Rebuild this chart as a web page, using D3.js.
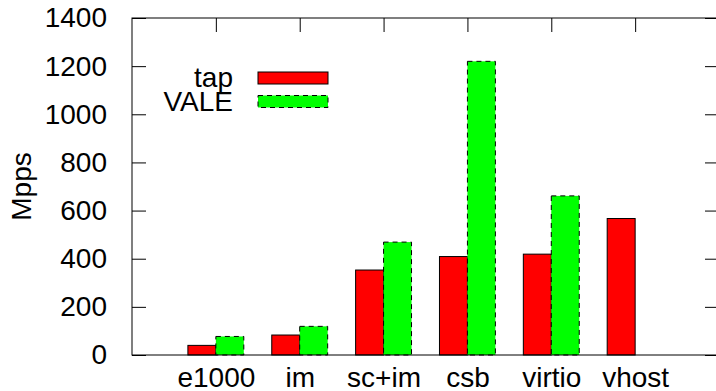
<!DOCTYPE html>
<html>
<head>
<meta charset="utf-8">
<script src="https://cdn.jsdelivr.net/npm/d3@7"></script>
<style>
  body { margin: 0; background: #fff; }
  text { font-family: "Liberation Sans", Arial, sans-serif; fill: #000; }
</style>
</head>
<body>
<div id="chart"></div>
<script>
// ---- data ----
var categories = ["e1000", "im", "sc+im", "csb", "virtio", "vhost"];
var tapValues  = [40, 83, 353, 409, 419, 567];
var valeValues = [77, 119, 469, 1220, 661, null];
var yTicks     = [0, 200, 400, 600, 800, 1000, 1200, 1400];

var width = 716;
var height = 391;
var fontSize = 28;

var svg = d3.select("#chart").append("svg")
    .attr("width", width)
    .attr("height", height);

// plot frame (right border sits just off the picture)
var plotLeft = 132, plotRight = 719, plotTop = 18, plotBottom = 355;

var x = d3.scaleLinear().domain([0, categories.length + 1]).range([plotLeft, plotRight]);
var y = d3.scaleLinear().domain([0, 1400]).range([plotBottom, plotTop]);
var barW = 1 / 3;

// bars
var tapBars = svg.append("g");
tapBars.selectAll("rect")
    .data(tapValues)
    .enter().append("rect")
    .attr("x", function(d, i) { return x(i + 1 - barW); })
    .attr("y", function(d) { return y(d); })
    .attr("width", function(d, i) { return x(i + 1) - x(i + 1 - barW); })
    .attr("height", function(d) { return y(0) - y(d); })
    .attr("fill", "#ff0000")
    .attr("stroke", "#000")
    .attr("stroke-width", 1);

var valeBars = svg.append("g");
valeBars.selectAll("rect")
    .data(valeValues.map(function(v, i) { return {v: v, i: i}; }).filter(function(d) { return d.v != null; }))
    .enter().append("rect")
    .attr("x", function(d) { return x(d.i + 1); })
    .attr("y", function(d) { return y(d.v); })
    .attr("width", function(d) { return x(d.i + 1 + barW) - x(d.i + 1); })
    .attr("height", function(d) { return y(0) - y(d.v); })
    .attr("fill", "#00ff00")
    .attr("stroke", "#000")
    .attr("stroke-width", 1)
    .attr("stroke-dasharray", "5,4");

// frame
svg.append("rect")
    .attr("x", plotLeft).attr("y", plotTop)
    .attr("width", plotRight - plotLeft).attr("height", plotBottom - plotTop)
    .attr("fill", "none").attr("stroke", "#000").attr("stroke-width", 1);

// y axis, left (labels) and mirrored right ticks
var yAxis = d3.axisLeft(y).tickValues(yTicks).tickSize(-14).tickPadding(25).tickFormat(d3.format("d"));
var gy = svg.append("g").attr("transform", "translate(" + plotLeft + ",0)").call(yAxis);
gy.select(".domain").remove();
gy.selectAll("text").attr("font-size", fontSize).attr("font-family", null);

var gyr = svg.append("g").attr("transform", "translate(" + plotRight + ",0)")
    .call(d3.axisRight(y).tickValues(yTicks).tickSize(-14).tickFormat(""));
gyr.select(".domain").remove();

// x axis: labels at bottom, ticks mirrored at top
var xIdx = categories.map(function(c, i) { return i + 1; });
var gx = svg.append("g").attr("transform", "translate(0," + plotBottom + ")")
    .call(d3.axisBottom(x).tickValues(xIdx).tickSize(0).tickPadding(12)
        .tickFormat(function(d) { return categories[d - 1]; }));
gx.select(".domain").remove();
gx.selectAll("text").attr("font-size", fontSize).attr("font-family", null);

var gxt = svg.append("g").attr("transform", "translate(0," + plotTop + ")")
    .call(d3.axisTop(x).tickValues(xIdx).tickSize(-14).tickFormat(""));
gxt.select(".domain").remove();

// y label
svg.append("text")
    .attr("transform", "translate(31," + ((plotTop + plotBottom) / 2) + ") rotate(-90)")
    .attr("text-anchor", "middle")
    .attr("font-size", fontSize)
    .text("Mpps");

// legend
var legendItems = [
  {name: "tap", fill: "#ff0000", dash: null},
  {name: "VALE", fill: "#00ff00", dash: "5,4"}
];
var lg = svg.append("g");
legendItems.forEach(function(d, i) {
  var cy = 78 + i * 23.5;
  lg.append("rect")
      .attr("x", 258).attr("y", cy - 6)
      .attr("width", 70).attr("height", 12)
      .attr("fill", d.fill).attr("stroke", "#000").attr("stroke-width", 1)
      .attr("stroke-dasharray", d.dash);
  lg.append("text")
      .attr("x", 233).attr("y", cy + 9)
      .attr("text-anchor", "end")
      .attr("font-size", fontSize)
      .text(d.name);
});
</script>
</body>
</html>
